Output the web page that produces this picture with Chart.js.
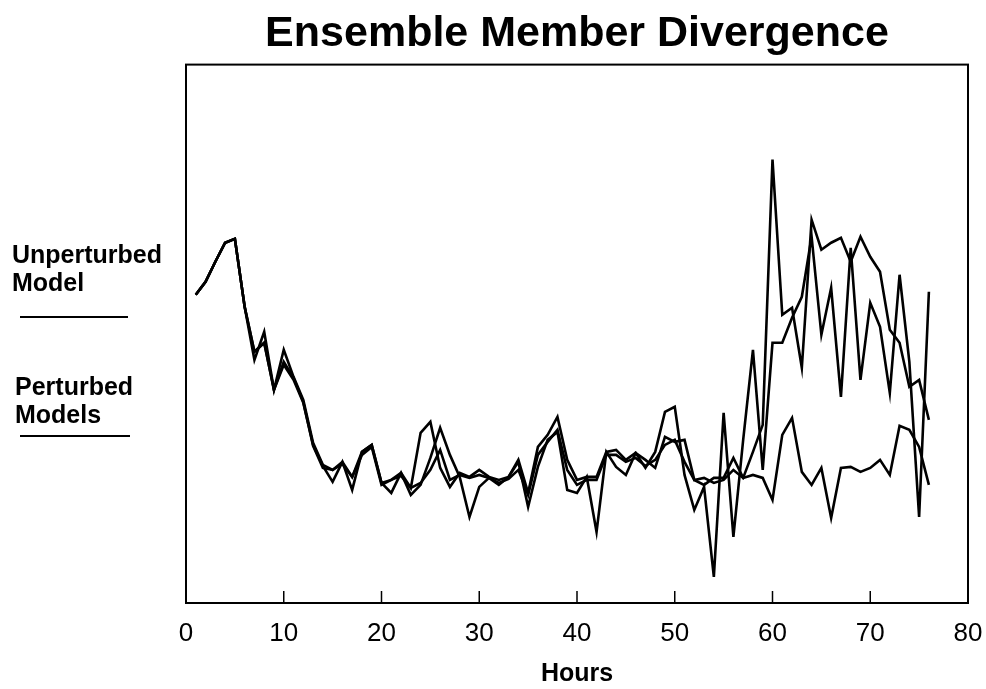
<!DOCTYPE html>
<html>
<head>
<meta charset="utf-8">
<script src="https://cdn.jsdelivr.net/npm/chart.js@4.4.0/dist/chart.umd.min.js"></script>
<style>
  body { margin: 0; background: #fff; }
  #wrap { position: relative; width: 986px; height: 689px; }
  .side { position: absolute; font: bold 25px "Liberation Sans", Arial, sans-serif; line-height: 28px; color: #000; }
  .rule { position: absolute; height: 2px; background: #000; }
</style>
</head>
<body>
<div id="wrap">
  <canvas id="chart"></canvas>
  <div class="side" style="left:12px; top:240px;">Unperturbed<br>Model</div>
  <div class="rule" style="left:20px; top:316px; width:108px;"></div>
  <div class="side" style="left:15px; top:372px;">Perturbed<br>Models</div>
  <div class="rule" style="left:20px; top:435px; width:110px;"></div>
</div>
<script>
// hours of each model output
const hours = [1, 2, 3, 4, 5, 6, 7, 8, 9, 10, 11, 12, 13, 14, 15, 16, 17, 18, 19, 20,
  21, 22, 23, 24, 25, 26, 27, 28, 29, 30, 31, 32, 33, 34, 35, 36, 37, 38, 39, 40,
  41, 42, 43, 44, 45, 46, 47, 48, 49, 50, 51, 52, 53, 54, 55, 56, 57, 58, 59, 60,
  61, 62, 63, 64, 65, 66, 67, 68, 69, 70, 71, 72, 73, 74, 75, 76];

const unperturbed = [61.6, 64.2, 68.2, 72.0, 72.8, 59.2, 48.6, 54.2, 42.6, 50.6,
  45.2, 40.6, 32.0, 27.6, 26.6, 28.2, 25.2, 30.2, 31.6, 24.0,
  24.6, 26.0, 23.0, 34.0, 36.2, 27.0, 23.2, 26.0, 25.2, 26.6,
  25.2, 24.6, 25.2, 28.6, 22.0, 31.2, 33.6, 37.2, 28.6, 24.6,
  25.2, 25.2, 30.2, 30.6, 28.6, 30.0, 27.0, 30.2, 38.2, 39.2,
  25.6, 18.6, 23.2, 5.2, 38.0, 13.2, 32.6, 50.6, 26.6, 52.0,
  52.0, 57.0, 61.2, 73.2, 53.6, 63.0, 41.2, 71.0, 44.6, 60.0,
  55.2, 42.0, 65.6, 48.2, 17.2, 62.2];

const perturbedA = [61.6, 64.2, 68.2, 72.0, 72.8, 59.2, 50.2, 52.0, 42.6, 47.6,
  44.6, 40.0, 31.6, 27.4, 24.2, 28.2, 22.6, 30.2, 31.6, 24.0,
  22.0, 26.0, 21.6, 23.6, 29.0, 35.0, 29.6, 25.2, 17.2, 23.2,
  25.0, 23.6, 25.2, 28.2, 19.2, 27.2, 32.6, 34.2, 22.6, 22.0,
  25.2, 14.2, 30.2, 27.2, 25.6, 30.0, 28.6, 27.0, 33.2, 32.2,
  32.6, 24.6, 25.0, 24.0, 24.6, 26.6, 25.0, 30.2, 35.6, 88.6,
  57.6, 59.0, 47.0, 76.6, 70.6, 72.0, 73.0, 68.2, 73.2, 69.2,
  66.2, 54.6, 52.0, 43.2, 44.6, 36.6];

const perturbedB = [61.6, 64.2, 68.2, 72.0, 72.8, 59.2, 50.2, 52.0, 42.6, 48.2,
  45.0, 40.2, 31.4, 27.0, 26.6, 27.8, 25.2, 29.6, 31.2, 23.6,
  24.6, 25.4, 23.0, 24.0, 26.6, 30.6, 24.6, 25.6, 25.0, 25.6,
  25.0, 24.0, 24.8, 26.6, 21.6, 29.6, 32.2, 34.6, 26.6, 23.6,
  24.6, 24.6, 29.6, 29.6, 28.2, 29.0, 27.4, 28.6, 31.6, 32.6,
  28.2, 24.6, 23.6, 25.0, 25.0, 29.0, 25.0, 25.6, 25.0, 20.6,
  33.6, 37.0, 26.2, 23.6, 27.0, 17.0, 27.0, 27.2, 26.2, 27.0,
  28.6, 25.6, 35.4, 34.6, 31.2, 23.6];

const xTicks = [0, 10, 20, 30, 40, 50, 60, 70, 80];

function points(values) {
  return hours.map((h, i) => ({ x: h, y: values[i] }));
}

function lineSet(label, values) {
  return {
    label: label,
    data: points(values),
    borderColor: '#000',
    borderWidth: 2.6,
    pointRadius: 0,
    tension: 0,
    fill: false
  };
}

// box around the plot and short ticks pointing inward
const frame = {
  id: 'frame',
  afterDraw(chart) {
    const { ctx, chartArea: a, scales } = chart;
    ctx.save();
    ctx.strokeStyle = '#000';
    ctx.lineWidth = 2;
    ctx.strokeRect(a.left, a.top, a.right - a.left, a.bottom - a.top);
    ctx.lineWidth = 1.5;
    xTicks.forEach(v => {
      const x = scales.x.getPixelForValue(v);
      ctx.beginPath();
      ctx.moveTo(x, a.bottom);
      ctx.lineTo(x, a.bottom - 12);
      ctx.stroke();
    });
    ctx.restore();
  }
};

Chart.defaults.font.family = '"Liberation Sans", Arial, sans-serif';
Chart.defaults.color = '#000';

new Chart(document.getElementById('chart'), {
  type: 'line',
  data: {
    datasets: [
      lineSet('Unperturbed Model', unperturbed),
      lineSet('Perturbed Model 1', perturbedA),
      lineSet('Perturbed Model 2', perturbedB)
    ]
  },
  options: {
    responsive: true,
    maintainAspectRatio: false,
    animation: false,
    layout: { padding: { left: 186, right: 18, top: 8, bottom: 0 } },
    plugins: {
      legend: { display: false },
      tooltip: { enabled: false },
      title: {
        display: true,
        text: 'Ensemble Member Divergence',
        font: { size: 43, weight: 'bold' },
        color: '#000',
        padding: { top: 0, bottom: 5 }
      }
    },
    scales: {
      x: {
        type: 'linear',
        min: 0,
        max: 80,
        afterBuildTicks: s => { s.ticks = xTicks.map(v => ({ value: v })); },
        afterFit: s => { s.height = 86; s.paddingLeft = 0; s.paddingRight = 0; },
        ticks: { font: { size: 26 }, color: '#000', padding: 15, maxRotation: 0 },
        grid: { display: false, drawTicks: false },
        border: { display: false },
        title: {
          display: true,
          text: 'Hours',
          font: { size: 25, weight: 'bold' },
          color: '#000',
          padding: { top: 8, bottom: 0 }
        }
      },
      y: {
        display: false,
        min: 0,
        max: 107.6
      }
    }
  },
  plugins: [frame]
});
</script>
</body>
</html>
